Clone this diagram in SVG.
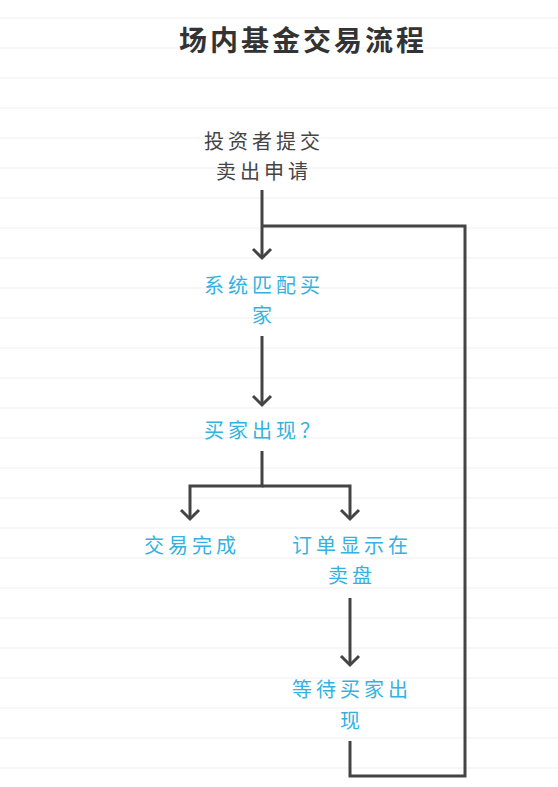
<svg xmlns="http://www.w3.org/2000/svg" width="558" height="787" viewBox="0 0 558 787">
<defs>
<style>
.bg{stroke:#f7f7f7;stroke-width:2}
.title{font-family:"Noto Sans CJK SC","Noto Sans",sans-serif;font-size:28px;font-weight:bold;fill:#333;letter-spacing:3px}
.t{font-family:"Noto Sans CJK SC","Noto Sans",sans-serif;font-size:20px;font-weight:400;letter-spacing:4px;text-anchor:middle}
.dark{fill:#444}
.blue{fill:#33b2e2}
.c{fill:none;stroke:#444;stroke-width:3}
</style>
<marker id="arr" viewBox="-11 -11 22 22" markerWidth="22" markerHeight="22" markerUnits="userSpaceOnUse" orient="auto" refX="0" refY="0">
<path d="M-9,-9 L0,0 L-9,9" fill="none" stroke="#444" stroke-width="3"/>
</marker>
</defs>
<rect width="558" height="787" fill="#fff"/>
<g id="background">
<line class="bg" x1="0" y1="18" x2="558" y2="18"/>
<line class="bg" x1="0" y1="48" x2="558" y2="48"/>
<line class="bg" x1="0" y1="78" x2="558" y2="78"/>
<line class="bg" x1="0" y1="108" x2="558" y2="108"/>
<line class="bg" x1="0" y1="138" x2="558" y2="138"/>
<line class="bg" x1="0" y1="168" x2="558" y2="168"/>
<line class="bg" x1="0" y1="198" x2="558" y2="198"/>
<line class="bg" x1="0" y1="228" x2="558" y2="228"/>
<line class="bg" x1="0" y1="258" x2="558" y2="258"/>
<line class="bg" x1="0" y1="288" x2="558" y2="288"/>
<line class="bg" x1="0" y1="318" x2="558" y2="318"/>
<line class="bg" x1="0" y1="348" x2="558" y2="348"/>
<line class="bg" x1="0" y1="378" x2="558" y2="378"/>
<line class="bg" x1="0" y1="408" x2="558" y2="408"/>
<line class="bg" x1="0" y1="438" x2="558" y2="438"/>
<line class="bg" x1="0" y1="468" x2="558" y2="468"/>
<line class="bg" x1="0" y1="498" x2="558" y2="498"/>
<line class="bg" x1="0" y1="528" x2="558" y2="528"/>
<line class="bg" x1="0" y1="558" x2="558" y2="558"/>
<line class="bg" x1="0" y1="588" x2="558" y2="588"/>
<line class="bg" x1="0" y1="618" x2="558" y2="618"/>
<line class="bg" x1="0" y1="648" x2="558" y2="648"/>
<line class="bg" x1="0" y1="678" x2="558" y2="678"/>
<line class="bg" x1="0" y1="708" x2="558" y2="708"/>
<line class="bg" x1="0" y1="738" x2="558" y2="738"/>
<line class="bg" x1="0" y1="768" x2="558" y2="768"/>
</g>
<g id="title">
<text class="title" x="303" y="51" text-anchor="middle">场内基金交易流程</text>
</g>
<g id="connectors">
<path class="c" d="M262,190 V258" marker-end="url(#arr)"/>
<path class="c" d="M262,226 H465 V776 H350 V741"/>
<path class="c" d="M262,336 V405" marker-end="url(#arr)"/>
<path class="c" d="M262,451 V486 H190 V519" marker-end="url(#arr)"/>
<path class="c" d="M262,486 H350 V519" marker-end="url(#arr)"/>
<path class="c" d="M350,598 V665" marker-end="url(#arr)"/>
</g>
<g id="start">
<text class="t dark" x="264" y="149">投资者提交</text>
<text class="t dark" x="264" y="179">卖出申请</text>
</g>
<g id="match">
<text class="t blue" x="264" y="293">系统匹配买</text>
<text class="t blue" x="264" y="323">家</text>
</g>
<g id="decision">
<text class="t blue" x="264" y="438">买家出现？</text>
</g>
<g id="done">
<text class="t blue" x="192" y="553">交易完成</text>
</g>
<g id="order">
<text class="t blue" x="352" y="553">订单显示在</text>
<text class="t blue" x="352" y="583">卖盘</text>
</g>
<g id="wait">
<text class="t blue" x="352" y="697">等待买家出</text>
<text class="t blue" x="352" y="728">现</text>
</g>
</svg>
